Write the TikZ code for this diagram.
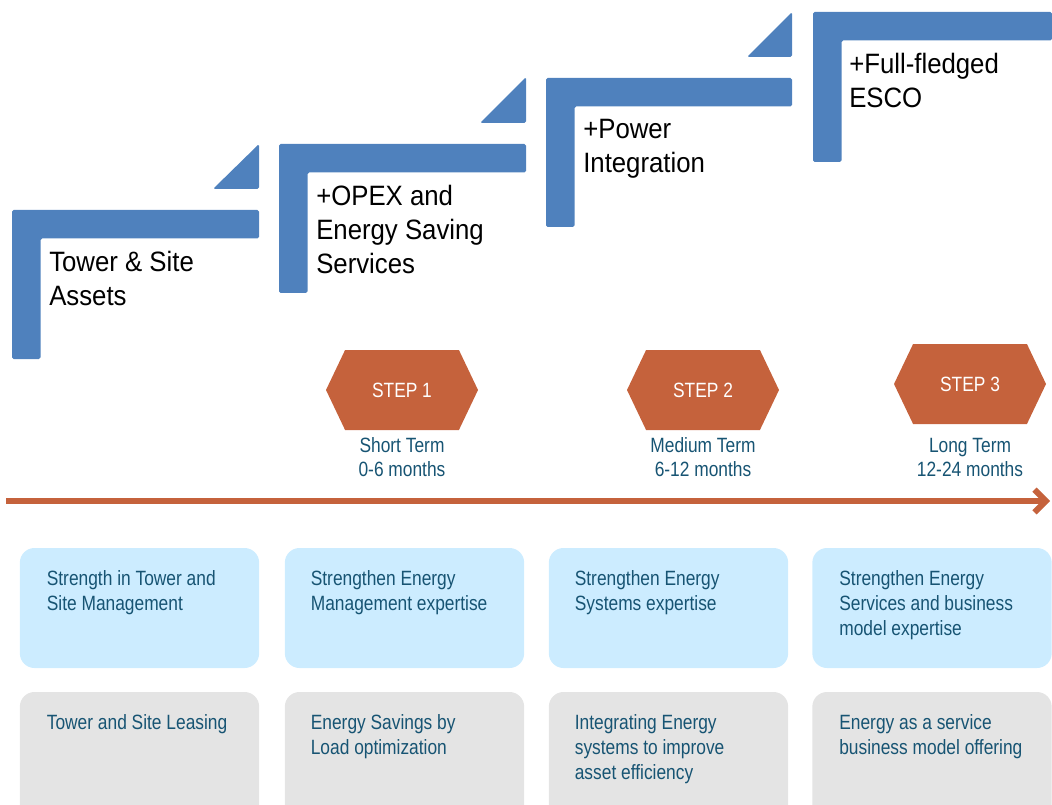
\documentclass[tikz,border=0pt]{standalone}
\usepackage{fontspec}
\setmainfont{Liberation Sans}
\newfontfamily\bigsans[FakeStretch = 0.92]{Liberation Sans}
\newfontfamily\narrowsans[FakeStretch = 0.84]{Liberation Sans}
\usetikzlibrary{positioning,shapes.symbols,arrows.meta}
\definecolor{barblue}{RGB}{79,129,189}
\definecolor{steporange}{RGB}{197,98,60}
\definecolor{boxblue}{RGB}{204,236,255}
\definecolor{boxgray}{RGB}{228,228,228}
\definecolor{textblue}{RGB}{23,84,115}
\begin{document}
\begin{tikzpicture}[x = 0.75pt, y = -0.75pt,
	bar/.style = {fill = barblue, rounded corners = 1.2pt},
	big/.style = {anchor = north west, inner sep = 0pt, align = left, font = \bigsans\fontsize{21}{25.5}\selectfont},
	stepbox/.style = {signal, signal to = east and west, signal pointer angle = 129, fill = steporange, draw = none, minimum width = 114pt, minimum height = 60pt, inner sep = 0pt, text = white, font = \narrowsans\fontsize{15.5}{18}\selectfont},
	term/.style = {align = center, inner sep = 0pt, text = textblue, font = \narrowsans\fontsize{15.5}{18}\selectfont},
	card/.style = {rounded corners = 11pt, minimum width = 179.5pt, inner sep = 0pt},
	note/.style = {anchor = north west, inner sep = 0pt, align = left, text = textblue, font = \narrowsans\fontsize{15.5}{18.5}\selectfont}]
	\useasboundingbox (0,0) rectangle (1052,805);
	% stairs
	\fill[bar] (12,210) coordinate (L1) -- ++(247,0) -- ++(0,28.5) -- ++(-218.5,0) -- ++(0,120.5) -- ++(-28.5,0) -- cycle;
	\fill[bar] (279,144) coordinate (L2) -- ++(247,0) -- ++(0,28.5) -- ++(-218.5,0) -- ++(0,120.5) -- ++(-28.5,0) -- cycle;
	\fill[bar] (546,78) coordinate (L3) -- ++(246,0) -- ++(0,28.5) -- ++(-217.5,0) -- ++(0,120.5) -- ++(-28.5,0) -- cycle;
	\fill[bar] (813,12) coordinate (L4) -- ++(239,0) -- ++(0,28.5) -- ++(-210.5,0) -- ++(0,121.5) -- ++(-28.5,0) -- cycle;
	\fill[bar] (259,144) -- ++(0,45) -- ++(-46,0) -- cycle;
	\fill[bar] (526,77) -- ++(0,46) -- ++(-46,0) -- cycle;
	\fill[bar] (792,12) -- ++(0,45) -- ++(-45,0) -- cycle;
	\node[big] (a1) at ([shift = {(37,41)}]L1) {Tower \& Site\\Assets};
	\node[big] (a2) at ([shift = {(37,41)}]L2) {+OPEX and\\Energy Saving\\Services};
	\node[big] (a3) at ([shift = {(37,41)}]L3) {+Power\\Integration};
	\node[big] (a4) at ([shift = {(36,41)}]L4) {+Full-fledged\\ESCO};
	% steps and timeline
	\node[stepbox] (s1) at (402,390) {STEP 1};
	\node[stepbox] (s2) at (703,390) {STEP 2};
	\node[stepbox] (s3) at (970,384) {STEP 3};
	\node[term, below = 5.25pt of s1] (t1) {Short Term\\0-6 months};
	\node[term, below = 5.25pt of s2] (t2) {Medium Term\\6-12 months};
	\node[term, below = 10.5pt of s3] (t3) {Long Term\\12-24 months};
	\coordinate (T0) at (6,501);
	\coordinate (T1) at (1050,501);
	\draw[steporange, line width = 4.5pt, -{Straight Barb[length = 8.5pt, width = 17pt]}] (T0) -- (T1);
	% cards
	\node[card, fill = boxblue, minimum height = 90pt] (b1) at (139.5,608) {};
	\node[card, fill = boxblue, minimum height = 90pt] (b2) at (404.5,608) {};
	\node[card, fill = boxblue, minimum height = 90pt] (b3) at (668.5,608) {};
	\node[card, fill = boxblue, minimum height = 90pt] (b4) at (932,608) {};
	\node[card, fill = boxgray, minimum height = 112.5pt] (g1) at (139.5,767) {};
	\node[card, fill = boxgray, minimum height = 112.5pt] (g2) at (404.5,767) {};
	\node[card, fill = boxgray, minimum height = 112.5pt] (g3) at (668.5,767) {};
	\node[card, fill = boxgray, minimum height = 112.5pt] (g4) at (932,767) {};
	\node[note] (n1) at ([shift = {(27,23)}]b1.north west) {Strength in Tower and\\Site Management};
	\node[note] (n2) at ([shift = {(26,23)}]b2.north west) {Strengthen Energy\\Management expertise};
	\node[note] (n3) at ([shift = {(26,23)}]b3.north west) {Strengthen Energy\\Systems expertise};
	\node[note] (n4) at ([shift = {(27,23)}]b4.north west) {Strengthen Energy\\Services and business\\model expertise};
	\node[note] (m1) at ([shift = {(27,23)}]g1.north west) {Tower and Site Leasing};
	\node[note] (m2) at ([shift = {(26,23)}]g2.north west) {Energy Savings by\\Load optimization};
	\node[note] (m3) at ([shift = {(26,23)}]g3.north west) {Integrating Energy\\systems to improve\\asset efficiency};
	\node[note] (m4) at ([shift = {(27,23)}]g4.north west) {Energy as a service\\business model offering};
\end{tikzpicture}
\end{document}
